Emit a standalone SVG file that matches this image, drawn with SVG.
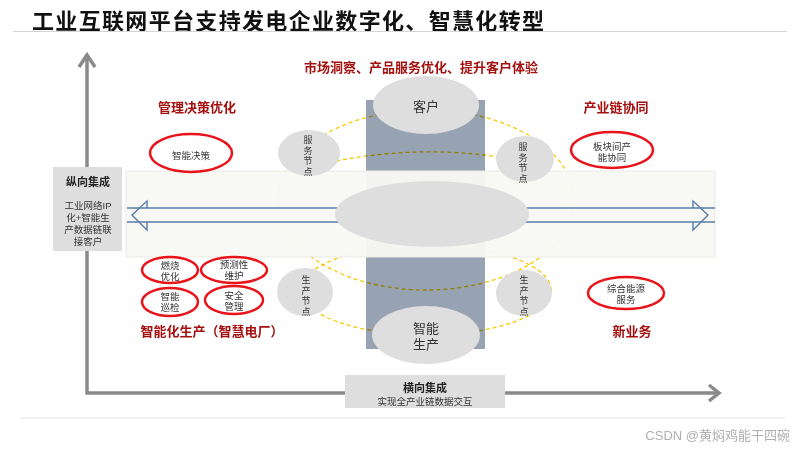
<svg xmlns="http://www.w3.org/2000/svg" width="800" height="450" viewBox="0 0 800 450">
<style>
text{font-family:"Liberation Sans","Noto Sans CJK SC",sans-serif;}
.title{font-size:22px;font-weight:700;fill:#111;}
.head{font-size:13px;font-weight:700;fill:#a3100f;text-anchor:middle;dominant-baseline:central;}
.lbl{font-size:9.5px;fill:#333;text-anchor:middle;dominant-baseline:central;}
.big{font-size:13px;fill:#333;text-anchor:middle;dominant-baseline:central;}
.gray{fill:#dedede;}
.red{fill:#fff;stroke:#e8141a;stroke-width:2.5;}
.axis{stroke:#8a8a8a;stroke-width:3.5;fill:none;}
.ring{fill:none;stroke:#f5c800;stroke-width:1.3;stroke-dasharray:4 3;mix-blend-mode:multiply;}
.arr{fill:none;stroke:#5a7ca8;stroke-width:1.4;}
.vt{font-size:9px;fill:#333;text-anchor:middle;dominant-baseline:central;}
</style>
<text x="32" y="29" class="title" textLength="512">工业互联网平台支持发电企业数字化、智慧化转型</text>
<line x1="13" y1="31.5" x2="787" y2="31.5" stroke="#d4d4d4" stroke-width="1"/>
<line x1="20" y1="418" x2="785" y2="418" stroke="#e2e2e2" stroke-width="1.2"/>
<text x="790" y="440" text-anchor="end" font-size="13" fill="#b0b0b0">CSDN @黄焖鸡能干四碗</text>

<g id="axes">
<polyline class="axis" points="87,56 87,393 718,393"/>
<polyline class="axis" points="79,67 87,55 95,67"/>
<polyline class="axis" points="709,385 719,393 709,401"/>
</g>

<g id="column"><rect x="366" y="100" width="119" height="249" fill="#97a3b3"/></g>

<g id="connectors">
<ellipse class="ring" cx="426" cy="200" rx="148" ry="90"/>
<ellipse class="ring" cx="426" cy="290" rx="125" ry="45"/>
<path class="ring" d="M336,161 Q418,145 500,157"/>
</g>

<g id="band"><rect x="126" y="171" width="589" height="86" fill="#f8f8f5" fill-opacity="0.96" stroke="#ebebe3" stroke-width="1"/></g>

<g id="double-arrow">
<line class="arr" x1="127" y1="208" x2="340" y2="208"/>
<line class="arr" x1="127" y1="222" x2="340" y2="222"/>
<line class="arr" x1="525" y1="208" x2="715" y2="208"/>
<line class="arr" x1="525" y1="222" x2="715" y2="222"/>
<polyline class="arr" points="147,208 147,201 132,215 147,230 147,222"/>
<polyline class="arr" points="693,208 693,201 708,215 693,230 693,222"/>
</g>

<g id="center"><ellipse class="gray" cx="432" cy="214" rx="97" ry="33"/></g>

<g id="customer"><ellipse class="gray" cx="426" cy="105" rx="53" ry="29"/><text class="big" x="426" y="106">客户</text></g>
<g id="smart-production"><ellipse class="gray" cx="426" cy="335" rx="54" ry="29"/><text class="big" x="426" y="328">智能</text><text class="big" x="426" y="344">生产</text></g>

<g id="service-left"><ellipse class="gray" cx="309" cy="153" rx="31" ry="23"/>
<text class="vt" x="308" y="140">服</text><text class="vt" x="308" y="150.5">务</text><text class="vt" x="308" y="161">节</text><text class="vt" x="308" y="171.5">点</text></g>
<g id="service-right"><ellipse class="gray" cx="525" cy="159" rx="29" ry="23"/>
<text class="vt" x="523" y="147">服</text><text class="vt" x="523" y="157.5">务</text><text class="vt" x="523" y="168">节</text><text class="vt" x="523" y="178.5">点</text></g>
<g id="prod-left"><ellipse class="gray" cx="305" cy="292" rx="28" ry="24"/>
<text class="vt" x="306" y="280">生</text><text class="vt" x="306" y="290.5">产</text><text class="vt" x="306" y="301">节</text><text class="vt" x="306" y="311.5">点</text></g>
<g id="prod-right"><ellipse class="gray" cx="524" cy="293" rx="28" ry="23"/>
<text class="vt" x="524" y="280">生</text><text class="vt" x="524" y="290.5">产</text><text class="vt" x="524" y="301">节</text><text class="vt" x="524" y="311.5">点</text></g>

<g id="vertical-box"><rect x="53" y="167" width="69" height="84" fill="#dedede"/>
<text x="88" y="182" font-size="11" font-weight="700" fill="#222" text-anchor="middle" dominant-baseline="central">纵向集成</text>
<text class="lbl" x="88" y="205" font-size="10">工业网络IP</text>
<text class="lbl" x="88" y="217" font-size="10">化+智能生</text>
<text class="lbl" x="88" y="229" font-size="10">产数据链联</text>
<text class="lbl" x="88" y="241" font-size="10">接客户</text></g>

<g id="horizontal-box"><rect x="345" y="375" width="160" height="33" fill="#dedede"/>
<text x="425" y="388" font-size="11" font-weight="700" fill="#222" text-anchor="middle" dominant-baseline="central">横向集成</text>
<text class="lbl" x="425" y="401" font-size="10">实现全产业链数据交互</text></g>

<g id="headings">
<text class="head" x="421" y="67">市场洞察、产品服务优化、提升客户体验</text>
<text class="head" x="197" y="107">管理决策优化</text>
<text class="head" x="616" y="107">产业链协同</text>
<text class="head" x="212" y="331">智能化生产（智慧电厂）</text>
<text class="head" x="632" y="331">新业务</text>
</g>

<g id="smart-decision"><ellipse class="red" cx="191" cy="153" rx="41" ry="19"/><text class="lbl" x="191" y="155">智能决策</text></g>
<g id="capacity"><ellipse class="red" cx="612" cy="150" rx="41" ry="18"/><text class="lbl" x="612" y="146">板块间产</text><text class="lbl" x="612" y="157">能协同</text></g>
<g id="combustion"><ellipse class="red" cx="170" cy="270" rx="28" ry="13"/><text class="lbl" x="170" y="265">燃烧</text><text class="lbl" x="170" y="276">优化</text></g>
<g id="predictive"><ellipse class="red" cx="234" cy="270" rx="33" ry="13"/><text class="lbl" x="234" y="264">预测性</text><text class="lbl" x="234" y="275">维护</text></g>
<g id="inspection"><ellipse class="red" cx="170" cy="302" rx="28" ry="14"/><text class="lbl" x="170" y="296">智能</text><text class="lbl" x="170" y="307">巡检</text></g>
<g id="safety"><ellipse class="red" cx="234" cy="300" rx="29" ry="14"/><text class="lbl" x="234" y="295">安全</text><text class="lbl" x="234" y="306">管理</text></g>
<g id="energy"><ellipse class="red" cx="626" cy="293" rx="38" ry="16"/><text class="lbl" x="626" y="288">综合能源</text><text class="lbl" x="626" y="299">服务</text></g>
</svg>
